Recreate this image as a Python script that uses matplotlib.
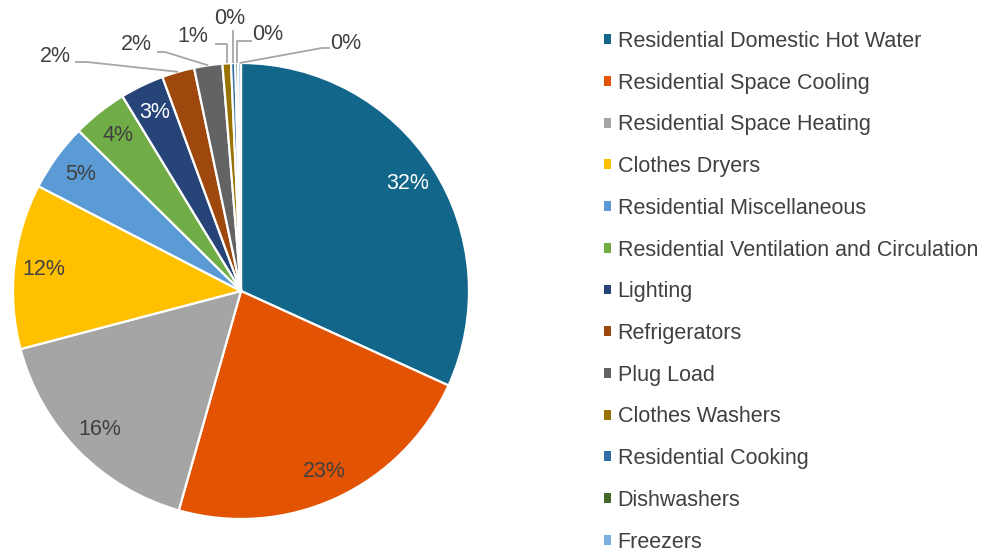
import numpy as np
import matplotlib
matplotlib.use('Agg')
import matplotlib.pyplot as plt
from matplotlib.patches import Patch

plt.rcParams['font.family'] = ['Liberation Sans', 'DejaVu Sans']

# Données (parts en %)
categories = [
    'Residential Domestic Hot Water', 'Residential Space Cooling',
    'Residential Space Heating', 'Clothes Dryers', 'Residential Miscellaneous',
    'Residential Ventilation and Circulation', 'Lighting', 'Refrigerators',
    'Plug Load', 'Clothes Washers', 'Residential Cooking', 'Dishwashers', 'Freezers',
]
shares = [31.8, 22.6, 16.5, 11.7, 4.8, 3.9, 3.1, 2.3, 2.0, 0.6, 0.3, 0.2, 0.2]
colors = ['#12668A', '#E25304', '#A5A5A5', '#FFC000', '#5B9BD5', '#70AD47',
          '#264478', '#9E480E', '#636363', '#997300', '#2F6EA6', '#43682B', '#7CAFDD']

TXT = '#404040'
FS = 15.5
CX, CY, R = 241, 291, 228  # centre / rayon du camembert en pixels


def px2d(px, py):
    return (px - CX) / R, (CY - py) / R


fig = plt.figure(figsize=(9.88, 5.52), dpi=100)
ax = fig.add_axes([0, 0, 560 / 988, 1])

wedges, texts, autotexts = ax.pie(
    shares, colors=colors, startangle=90, counterclock=False, radius=1,
    wedgeprops=dict(edgecolor='white', linewidth=1.6),
    autopct=lambda p: '%.0f%%' % p if p >= 3 else '',
    pctdistance=0.87, textprops=dict(color=TXT, fontsize=FS))
for i, t in enumerate(autotexts):
    if i in (0, 6):
        t.set_color('white')

ax.set_aspect('equal')
ax.set_xlim((0 - CX) / R, (560 - CX) / R)
ax.set_ylim((CY - 552) / R, CY / R)
ax.axis('off')

# étiquettes extérieures avec lignes de rappel (pixels : label, départ, coude)
outside = {
    7: ((55, 56), (75, 62), (87, 62)),
    8: ((136, 44), (157, 52), (165, 52)),
    9: ((193, 36), (215, 44), None),
    10: ((230, 18), (233, 30), None),
    11: ((268, 34), (252, 41), None),
    12: ((346, 43), (330, 48), (322, 48)),
}
cum = np.cumsum([0] + shares)
for i, (lab, start, elbow) in outside.items():
    mid = (cum[i] + cum[i + 1]) / 2 / 100 * 2 * np.pi
    wx, wy = np.sin(mid), np.cos(mid)
    sx, sy = px2d(*start)
    if elbow is None:
        pts = [(sx, sy), (wx, sy), (wx, wy)]
    else:
        ex, ey = px2d(*elbow)
        pts = [(sx, sy), (ex, ey), (wx, wy)]
    xs, ys = zip(*pts)
    ax.plot(xs, ys, color='#A6A6A6', lw=1.3, clip_on=False, solid_capstyle='butt')
    lx, ly = px2d(*lab)
    ax.text(lx, ly, '%.0f%%' % shares[i], ha='center', va='center',
            fontsize=FS, color=TXT, clip_on=False)

handles = [Patch(facecolor=c, edgecolor='none') for c in colors]
fig.legend(handles, categories, loc='upper left', bbox_to_anchor=(604 / 988, 1 - 31 / 552),
           frameon=False, fontsize=FS, labelcolor=TXT, handlelength=0.33,
           handleheight=0.33, handletextpad=0.3, labelspacing=0.962,
           borderaxespad=0, borderpad=0)

fig.savefig('out.png', dpi=100)
